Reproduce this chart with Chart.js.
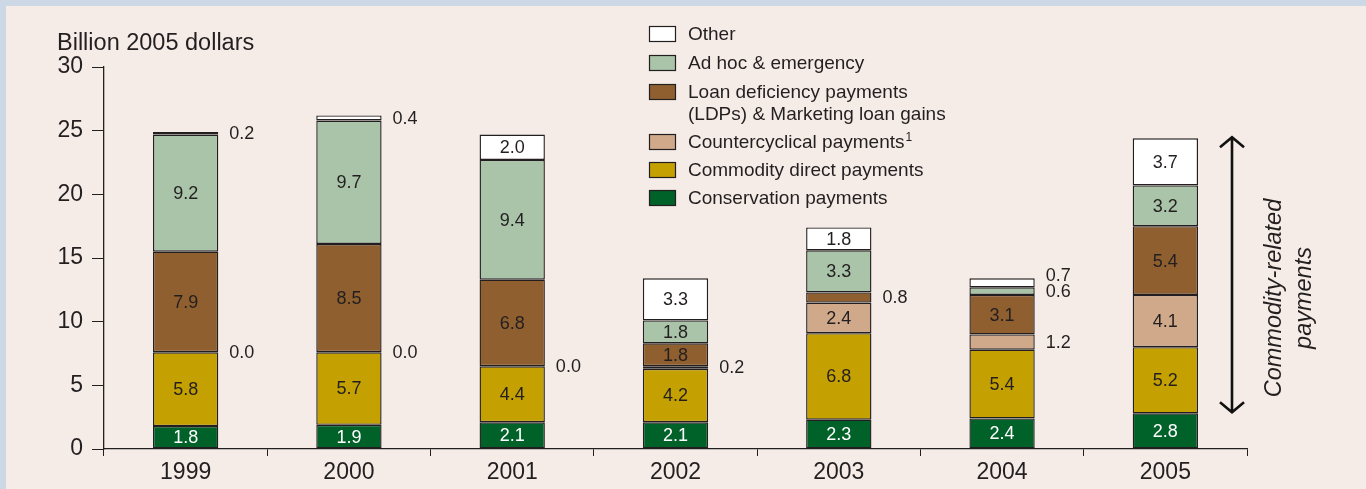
<!DOCTYPE html>
<html>
<head>
<meta charset="utf-8">
<script src="https://cdn.jsdelivr.net/npm/chart.js@4.4.1/dist/chart.umd.min.js"></script>
<style>
  html, body { margin: 0; padding: 0; background: #f5ece7; }
  #wrap { width: 1366px; height: 489px; position: relative; }
</style>
</head>
<body>
<div id="wrap"><canvas id="farmChart" width="1366" height="489"></canvas></div>
<script>
// data, bottom of stack first
const years = ['1999', '2000', '2001', '2002', '2003', '2004', '2005'];
const conservation = [1.8, 1.9, 2.1, 2.1, 2.3, 2.4, 2.8];
const commodityDirect = [5.8, 5.7, 4.4, 4.2, 6.8, 5.4, 5.2];
const countercyclical = [0.0, 0.0, 0.0, 0.2, 2.4, 1.2, 4.1];
const loanDeficiency = [7.9, 8.5, 6.8, 1.8, 0.8, 3.1, 5.4];
const adHoc = [9.2, 9.7, 9.4, 1.8, 3.3, 0.6, 3.2];
const other = [0.2, 0.4, 2.0, 3.3, 1.8, 0.7, 3.7];
const yTicks = [0, 5, 10, 15, 20, 25, 30];

const FONT = '"Liberation Sans", Arial, Helvetica, sans-serif';
const INK = '#231f20';

const series = [
  { label: 'Conservation payments', data: conservation, color: '#006129', text: '#ffffff' },
  { label: 'Commodity direct payments', data: commodityDirect, color: '#c4a000', text: INK },
  { label: 'Countercyclical payments', sup: '1', data: countercyclical, color: '#cfa98a', text: INK },
  { label: ['Loan deficiency payments', '(LDPs) & Marketing loan gains'], data: loanDeficiency, color: '#8f5f2f', text: INK },
  { label: 'Ad hoc & emergency', data: adHoc, color: '#a9c4a8', text: INK },
  { label: 'Other', data: other, color: '#ffffff', text: INK }
];

const backdrop = {
  id: 'backdrop',
  beforeDraw(chart) {
    const ctx = chart.ctx;
    ctx.save();
    ctx.fillStyle = '#cdd8e6';
    ctx.fillRect(0, 0, chart.width, chart.height);
    ctx.fillStyle = '#f5ece7';
    ctx.fillRect(6, 6, chart.width - 6, chart.height - 6);
    ctx.restore();
  }
};

// value labels: inside big segments, beside small ones
const valueLabels = {
  id: 'valueLabels',
  afterDatasetsDraw(chart) {
    const ctx = chart.ctx;
    ctx.save();
    ctx.font = '18px ' + FONT;
    ctx.textBaseline = 'middle';
    years.forEach((yr, i) => {
      const outside = [];
      chart.data.datasets.forEach((ds, d) => {
        const bar = chart.getDatasetMeta(d).data[i];
        const v = ds.data[i];
        const cy = (bar.y + bar.base) / 2;
        if (v >= 1.5) {
          ctx.textAlign = 'center';
          ctx.fillStyle = series[d].text;
          ctx.fillText(v.toFixed(1), bar.x, cy + 1);
        } else {
          outside.push({ x: bar.x + bar.width / 2 + 11, y: cy, v: v });
        }
      });
      let prev = null;
      outside.forEach(o => {
        if (prev !== null && o.y > prev - 16) o.y = prev - 16;
        prev = o.y;
        ctx.textAlign = 'left';
        ctx.fillStyle = INK;
        ctx.fillText(o.v.toFixed(1), o.x, o.y + 1);
      });
    });
    ctx.restore();
  }
};

const extras = {
  id: 'extras',
  afterDraw(chart) {
    const ctx = chart.ctx;
    const y = chart.scales.y;
    ctx.save();
    ctx.fillStyle = INK;

    // axis title
    ctx.font = '23.5px ' + FONT;
    ctx.textAlign = 'left';
    ctx.textBaseline = 'middle';
    ctx.fillText('Billion 2005 dollars', 57, 44);

    // legend, top entry = top of stack
    const rows = [34, 63, 92, 142, 170, 198];
    ctx.font = '19px ' + FONT;
    series.slice().reverse().forEach((s, k) => {
      const ry = rows[k];
      ctx.fillStyle = s.color;
      ctx.fillRect(649, ry - 8, 27, 16);
      ctx.strokeStyle = INK;
      ctx.lineWidth = 1.2;
      ctx.strokeRect(649.5, ry - 7.5, 26, 15);
      ctx.fillStyle = INK;
      ctx.textAlign = 'left';
      const lines = Array.isArray(s.label) ? s.label : [s.label];
      lines.forEach((t, j) => ctx.fillText(t, 688, ry + 1 + j * 22));
      if (s.sup) {
        const w = ctx.measureText(lines[0]).width;
        ctx.font = '12px ' + FONT;
        ctx.fillText(s.sup, 689 + w, ry - 4);
        ctx.font = '19px ' + FONT;
      }
    });

    // double arrow beside the 2005 bar
    const last = years.length - 1;
    const top = y.getPixelForValue(conservation[last] + commodityDirect[last] + countercyclical[last]
      + loanDeficiency[last] + adHoc[last] + other[last]) - 1;
    const bottom = y.getPixelForValue(conservation[last]) - 1;
    const ax = 1232;
    ctx.strokeStyle = '#111';
    ctx.lineWidth = 2.6;
    ctx.beginPath();
    ctx.moveTo(ax, top);
    ctx.lineTo(ax, bottom);
    ctx.moveTo(ax - 12, top + 10);
    ctx.lineTo(ax, top);
    ctx.lineTo(ax + 12, top + 10);
    ctx.moveTo(ax - 12, bottom - 10);
    ctx.lineTo(ax, bottom);
    ctx.lineTo(ax + 12, bottom - 10);
    ctx.stroke();

    ctx.translate(1274, 298);
    ctx.rotate(-Math.PI / 2);
    ctx.font = 'italic 23.5px ' + FONT;
    ctx.textAlign = 'center';
    ctx.fillStyle = INK;
    ctx.fillText('Commodity-related', 0, 0);
    ctx.fillText('payments', 0, 30);
    ctx.restore();
  }
};

new Chart(document.getElementById('farmChart'), {
  type: 'bar',
  data: {
    labels: years,
    datasets: series.map(s => ({
      label: Array.isArray(s.label) ? s.label.join(' ') : s.label,
      data: s.data,
      backgroundColor: s.color,
      borderColor: INK,
      borderWidth: 1.4,
      borderSkipped: false,
      barPercentage: 0.4,
      categoryPercentage: 1.0
    }))
  },
  options: {
    responsive: false,
    animation: false,
    layout: { padding: { left: 0, top: 67, right: 119, bottom: 0 } },
    plugins: {
      legend: { display: false },
      tooltip: { enabled: false }
    },
    scales: {
      x: {
        stacked: true,
        afterFit(s) { s.height = 40; },
        border: { color: INK, width: 1.3 },
        grid: { drawOnChartArea: false, color: INK, tickLength: 7, offset: true },
        ticks: { color: INK, font: { family: FONT, size: 23 }, padding: 3 }
      },
      y: {
        stacked: true,
        min: 0,
        max: 30,
        afterFit(s) { s.width = 104; },
        afterBuildTicks(s) { s.ticks = yTicks.map(v => ({ value: v })); },
        border: { color: INK, width: 1.3 },
        grid: { drawOnChartArea: false, color: INK, tickLength: 12 },
        ticks: { color: INK, font: { family: FONT, size: 23 }, padding: 9 }
      }
    }
  },
  plugins: [backdrop, valueLabels, extras]
});
</script>
</body>
</html>
